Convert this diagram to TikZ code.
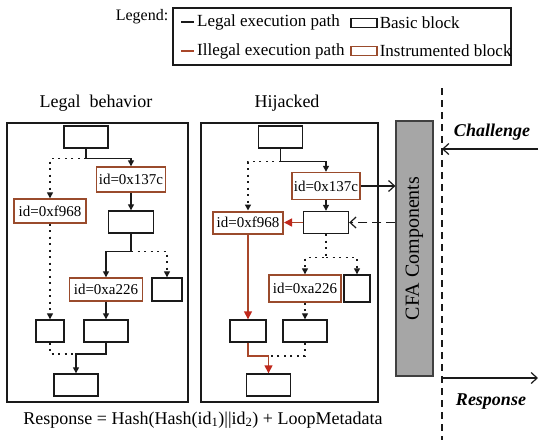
\documentclass[tikz,border=0pt]{standalone}
\usepackage{fontspec}
\setmainfont{Liberation Serif}
\usetikzlibrary{arrows.meta,positioning,calc}
\definecolor{cInst}{HTML}{9A4B2C}
\definecolor{cIll} {HTML}{A8472A}
\definecolor{cTip} {HTML}{C0281C}
\definecolor{cCfa} {HTML}{A6A6A6}
\definecolor{cNeut}{HTML}{1A1A1A}
\newcommand{\fsz}[1]{\fontsize{#1}{#1}\selectfont}
\tikzset{
  blk/.style     ={draw=cNeut,fill=white,line width=1.4pt,inner sep=0pt,
                   minimum width=44,minimum height=22},
  inst/.style    ={blk,draw=cInst,font=\fsz{15}},
  hot/.style     ={inst,line width=2pt},
  panel/.style   ={draw=cNeut,line width=1.5pt,inner sep=0pt},
  ttl/.style     ={font=\fsz{18}},
  lgl/.style     ={-{Triangle[length=6pt,width=6pt]},draw=cNeut,line width=1.3pt},
  notaken/.style ={lgl,dash pattern=on 2pt off 4.5pt},
  ill/.style     ={-{Triangle[length=8pt,width=8pt,color=cTip]},draw=cIll,line width=1.5pt},
  opn/.style     ={-{Straight Barb[length=6pt,width=11pt]},draw=cNeut,line width=1.2pt},
}

\begin{document}
\begin{tikzpicture}[x=1pt,y=1pt,font=\fsz{17}]
\useasboundingbox (0,0) rectangle (550,-440);

% legend
\node[font=\fsz{16}] (legT) at (142,-17) {Legend:};
\node[panel,line width=1.2pt,minimum width=338,minimum height=57] (legBox) at (342,-36.5) {};
\node[anchor=west,inner sep=0pt] (legA) at (197,-22) {Legal execution path};
\node[anchor=west,inner sep=0pt] (legC) at (197,-51) {Illegal execution path};
\draw[cNeut,line width=1.3pt] ([xshift=-16]legA.west) -- ([xshift=-3]legA.west);
\draw[cIll,line width=1.3pt] ([xshift=-16]legC.west) -- ([xshift=-3]legC.west);
\node[blk,line width=1.2pt,minimum width=26,minimum height=9] (legB) at (364,-23) {};
\node[inst,line width=1.2pt,minimum width=26,minimum height=9] (legD) at (364,-51) {};
\node[anchor=west,inner sep=0pt] (legBt) at ([xshift=2]legB.east) {Basic block};
\node[anchor=west,inner sep=0pt] (legDt) at ([xshift=2]legD.east) {Instrumented block};

% legal behavior
\node[panel,minimum width=181,minimum height=279] (lPanel) at (97.5,-262.5) {};
\node[ttl] (lTitle) at (96,-103) {Legal\ \ behavior};

\node[blk] (lTop) at (86,-137) {};
\node[inst,minimum width=69,minimum height=25] (lIdA) at (131,-179.5) {id=0x137c};
\node[inst,minimum width=72,minimum height=24] (lIdB) at (50,-211) {id=0xf968};
\node[blk,minimum width=45] (lMidA) at (131,-222) {};
\node[inst,minimum width=73,minimum height=23] (lIdC) at (106,-289.5) {id=0xa226};
\node[blk,minimum width=30,minimum height=23] (lSide) at (167,-289.5) {};
\node[blk,minimum width=28] (lLeft) at (50,-331) {};
\node[blk] (lMidB) at (106,-331) {};
\node[blk] (lBot) at (76,-385) {};
\coordinate (lJoin) at (76,-354);

\draw[lgl] (lTop.south) -- ++(0,-10) -| (lIdA.north);
\draw[notaken] (lTop.south) ++(0,-10) -| (lIdB.north);
\draw[lgl] (lIdA.south) -- (lMidA.north);
\draw[lgl] (lMidA.south) -- ++(0,-18) -| (lIdC.north);
\draw[notaken] (lMidA.south) ++(0,-18) -| (lSide.north);
\draw[notaken] (lIdB.south) -- (lLeft.north);
\draw[lgl] (lIdC.south) -- (lMidB.north);
\draw[lgl] (lMidB.south) |- (lJoin) -- (lBot.north);
\draw[notaken,-] (lLeft.south) |- (lJoin);

% hijacked
\node[panel,minimum width=177,minimum height=279] (hPanel) at (289.5,-262.5) {};
\node[ttl] (hTitle) at (287,-103) {Hijacked};

\node[blk] (hTop) at (280.5,-137) {};
\node[inst,minimum width=68,minimum height=27] (hIdA) at (326,-186) {id=0x137c};
\node[hot,minimum width=70,minimum height=22] (hIdB) at (248,-222.5) {id=0xf968};
\node[blk,minimum width=45] (hMidA) at (326,-222.5) {};
\node[inst,minimum width=72,minimum height=27] (hIdC) at (305,-288.5) {id=0xa226};
\node[blk,minimum width=26,minimum height=27] (hSide) at (357,-288.5) {};
\node[blk,minimum width=36] (hLeft) at (248,-331) {};
\node[blk] (hMidB) at (305,-331) {};
\node[blk] (hBot) at (268.5,-385) {};
\coordinate (hJoin) at (268.5,-356);

\draw[lgl] (hTop.south) -- ++(0,-13) -| (hIdA.north);
\draw[notaken] (hTop.south) ++(0,-13) -| (hIdB.north);
\draw[lgl] (hIdA.south) -- (hMidA.north);
\draw[ill] (hMidA.west) -- (hIdB.east);
\draw[notaken] (hMidA.south) -- ++(0,-23.5) -| (hIdC.north);
\draw[notaken] (hMidA.south) ++(0,-23.5) -| (hSide.north);
\draw[ill] (hIdB.south) -- (hLeft.north);
\draw[notaken] (hIdC.south) -- (hMidB.north);
\draw[ill] (hLeft.south) |- (hJoin) -- (hBot.north);
\draw[notaken,-] (hMidB.south) |- (hJoin);

% CFA side
\node[draw=black!75,fill=cCfa,line width=1.2pt,minimum width=37,minimum height=255,
      inner sep=0pt] (cfa) at (414.5,-248.5) {};
\node[rotate=90,font=\fsz{20}] (cfaT) at (cfa.center) {CFA Components};
\draw[opn] (hIdA.east) -- (hIdA.east -| cfa.west);
\draw[opn,dash pattern=on 9pt off 5pt] (cfa.west |- hMidA.east) -- (hMidA.east);

\coordinate (divTop) at (442,-88);
\coordinate (divBot) at (442,-440);
\draw[cNeut,line width=1.2pt,dash pattern=on 7pt off 5pt] (divTop) -- (divBot);
\node[font=\fsz{18}\bfseries\itshape] (chal) at (492,-132) {Challenge};
\coordinate (chalIn) at (538,-149);
\draw[opn] (chalIn) -- (chalIn -| divTop);
\coordinate (respOut) at (538,-378);
\draw[opn] (respOut -| divTop) -- (respOut);
\node[font=\fsz{18}\bfseries\itshape] (resp) at (491,-402) {Response};

\node[font=\fsz{18}] (formula) at (203,-420)
  {Response = Hash(Hash(id\textsubscript{1})||id\textsubscript{2}) + LoopMetadata};
\end{tikzpicture}
\end{document}
